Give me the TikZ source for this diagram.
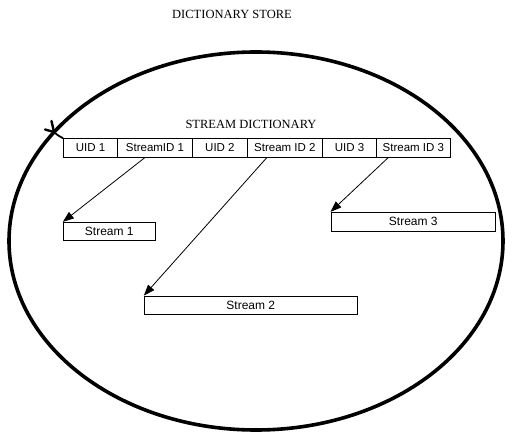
\documentclass[tikz,border=0pt]{standalone}
\usepackage{fontspec}
\setmainfont{Liberation Serif}
\setsansfont{Liberation Sans}
\usetikzlibrary{shapes.geometric,arrows.meta}
\begin{document}
\begin{tikzpicture}[x=1pt,y=-1pt,
  cell/.style={draw,line width=0.9pt,rectangle,inner sep=0pt,minimum height=18.5pt,
    font=\sffamily\fontsize{11.5}{12}\selectfont},
  sbox/.style={draw,line width=0.9pt,rectangle,inner sep=0pt,
    font=\sffamily\fontsize{12}{13}\selectfont},
  title/.style={font=\fontsize{12.5}{14}\selectfont,inner sep=0pt},
  arr/.style={line width=0.8pt,-{Triangle[length=11pt,width=8pt]}},
  rim/.style={line width=3.6pt}]
\useasboundingbox (0,0) rectangle (515,439);
% outer ellipse
\node[ellipse,draw,rim,minimum width=494pt,minimum height=378pt,inner sep=0pt] (store) at (256,241) {};
\node[title] (storetitle) at (232,14.5) {DICTIONARY STORE};
\node[title] (dicttitle) at (251,124) {STREAM DICTIONARY};
% dictionary row
\node[cell,minimum width=54.4pt] (c1) at (90.5,147.8) {UID 1};
\node[cell,minimum width=74.6pt] (c2) at (155,147.8) {StreamID 1};
\node[cell,minimum width=55.2pt] (c3) at (219.9,147.8) {UID 2};
\node[cell,minimum width=74.8pt] (c4) at (284.9,147.8) {Stream ID 2};
\node[cell,minimum width=54.4pt] (c5) at (349.5,147.8) {UID 3};
\node[cell,minimum width=73.3pt] (c6) at (413.35,147.8) {Stream ID 3};
% stream boxes
\node[sbox,minimum width=92pt,minimum height=17.7pt] (s1) at (109.3,231.2) {Stream 1};
\node[sbox,minimum width=213pt,minimum height=18.3pt] (s2) at (250.8,305.2) {Stream 2};
\node[sbox,minimum width=164.7pt,minimum height=18.7pt] (s3) at (413.3,221.7) {Stream 3};
% arrows
\draw[arr] ([xshift=-10pt]c2.south) -- (s1.north west);
\draw[arr] ([xshift=-18pt]c4.south) -- (s2.north west);
\draw[arr] ([xshift=-25pt]c6.south) -- (s3.north west);
% small mark where the ellipse outline was closed
\coordinate (x0) at (54,132);
\draw[line width=2.4pt,line cap=round] (x0) -- (51.5,121);
\draw[line width=2.4pt,line cap=round] (x0) -- (45,129.5);
\draw[line width=1.8pt,line cap=round] (x0) .. controls (58,136) and (62,137.5) .. (c1.north west);
\end{tikzpicture}
\end{document}
